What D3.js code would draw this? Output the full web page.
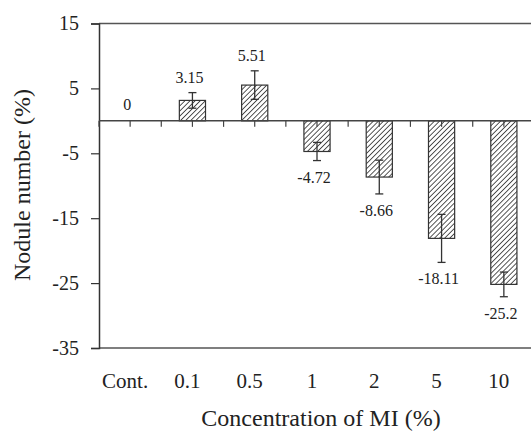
<!DOCTYPE html>
<html>
<head>
<meta charset="utf-8">
<script src="https://cdn.jsdelivr.net/npm/d3@7"></script>
<style>
  body { margin: 0; background: #fff; }
  text { font-family: "Liberation Serif", "Times New Roman", serif; fill: #222; }
</style>
</head>
<body>
<div id="chart"></div>
<script>
// data
var categories = ["Cont.", "0.1", "0.5", "1", "2", "5", "10"];
var values = [0, 3.15, 5.51, -4.72, -8.66, -18.11, -25.2];
var errors = [0, 1.2, 2.2, 1.4, 2.6, 3.7, 1.9];
var valueLabels = ["0", "3.15", "5.51", "-4.72", "-8.66", "-18.11", "-25.2"];
var yTicks = [15, 5, -5, -15, -25, -35];

var W = 531, H = 436;
var plotLeft = 99, plotRight = 535, plotTop = 23.5, plotBottom = 348;

var svg = d3.select("#chart").append("svg")
  .attr("width", W)
  .attr("height", H);

// hatch fill for bars
var pat = svg.append("defs").append("pattern")
  .attr("id", "hatch")
  .attr("patternUnits", "userSpaceOnUse")
  .attr("width", 3.6)
  .attr("height", 3.6)
  .attr("patternTransform", "rotate(45)");
pat.append("rect").attr("width", 3.6).attr("height", 3.6).attr("fill", "#fff");
pat.append("line")
  .attr("x1", 0).attr("y1", 0).attr("x2", 0).attr("y2", 3.6)
  .attr("stroke", "#444").attr("stroke-width", 1.8);

var x = d3.scaleBand().domain(categories).range([plotLeft, plotRight]).padding(0);
var y = d3.scaleLinear().domain([-35, 15]).range([plotBottom, plotTop]);
var step = x.step();
var bw = step * 0.42;

// frame lines
svg.append("line")
  .attr("x1", plotLeft).attr("x2", W).attr("y1", y(15)).attr("y2", y(15))
  .attr("stroke", "#555").attr("stroke-width", 1.5);
svg.append("line")
  .attr("x1", plotLeft).attr("x2", W).attr("y1", y(-35)).attr("y2", y(-35))
  .attr("stroke", "#555").attr("stroke-width", 1.5);

// y axis (plain hyphen for negatives, as in the original)
var yAxis = svg.append("g")
  .attr("transform", "translate(" + plotLeft + ",0)")
  .call(d3.axisLeft(y).tickValues(yTicks).tickSize(8).tickPadding(12)
    .tickFormat(function(d) { return String(d); }));
yAxis.select(".domain").attr("stroke", "#333").attr("stroke-width", 1.5);
yAxis.selectAll(".tick line").attr("stroke", "#333").attr("stroke-width", 1.2);
yAxis.selectAll(".tick text")
  .style("font-family", "Liberation Serif")
  .style("font-size", "20px")
  .attr("fill", "#222");

// bars
svg.selectAll("rect.bar")
  .data(values)
  .enter().append("rect")
  .attr("class", "bar")
  .attr("x", function(d, i) { return x(categories[i]) + step / 2 - bw / 2; })
  .attr("y", function(d) { return y(Math.max(0, d)); })
  .attr("width", bw)
  .attr("height", function(d) { return Math.abs(y(d) - y(0)); })
  .attr("fill", "url(#hatch)")
  .attr("stroke", "#333")
  .attr("stroke-width", 1.2);

// zero line with ticks at centers and boundaries
svg.append("line")
  .attr("x1", plotLeft).attr("x2", W).attr("y1", y(0)).attr("y2", y(0))
  .attr("stroke", "#444").attr("stroke-width", 1.5);
categories.forEach(function(c) {
  [x(c), x(c) + step / 2].forEach(function(px) {
    svg.append("line")
      .attr("x1", px).attr("x2", px)
      .attr("y1", y(0)).attr("y2", y(0) + 6)
      .attr("stroke", "#444").attr("stroke-width", 1.2);
  });
});

// error bars
values.forEach(function(v, i) {
  var e = errors[i];
  if (!e) return;
  var cx = x(categories[i]) + step / 2;
  var g = svg.append("g").attr("stroke", "#333").attr("stroke-width", 1.3);
  g.append("line").attr("x1", cx).attr("x2", cx).attr("y1", y(v + e)).attr("y2", y(v - e));
  g.append("line").attr("x1", cx - 4).attr("x2", cx + 4).attr("y1", y(v + e)).attr("y2", y(v + e));
  g.append("line").attr("x1", cx - 4).attr("x2", cx + 4).attr("y1", y(v - e)).attr("y2", y(v - e));
});

// value labels
svg.selectAll("text.val")
  .data(values)
  .enter().append("text")
  .attr("class", "val")
  .attr("x", function(d, i) { return x(categories[i]) + step / 2 - 3; })
  .attr("y", function(d, i) {
    if (d === 0) return y(0) - 11;
    return d > 0 ? y(d + errors[i]) - 10 : y(d - errors[i]) + 22;
  })
  .attr("text-anchor", "middle")
  .style("font-size", "16px")
  .text(function(d, i) { return valueLabels[i]; });

// category labels
svg.selectAll("text.cat")
  .data(categories)
  .enter().append("text")
  .attr("class", "cat")
  .attr("x", function(d) { return x(d) + step / 2 - 5; })
  .attr("y", 388)
  .attr("text-anchor", "middle")
  .style("font-size", "21px")
  .text(function(d) { return d; });

// axis titles
svg.append("text")
  .attr("x", 321)
  .attr("y", 426)
  .attr("text-anchor", "middle")
  .style("font-size", "24px")
  .text("Concentration of MI (%)");

svg.append("text")
  .attr("transform", "translate(30,185) rotate(-90)")
  .attr("text-anchor", "middle")
  .style("font-size", "24px")
  .text("Nodule number (%)");
</script>
</body>
</html>
